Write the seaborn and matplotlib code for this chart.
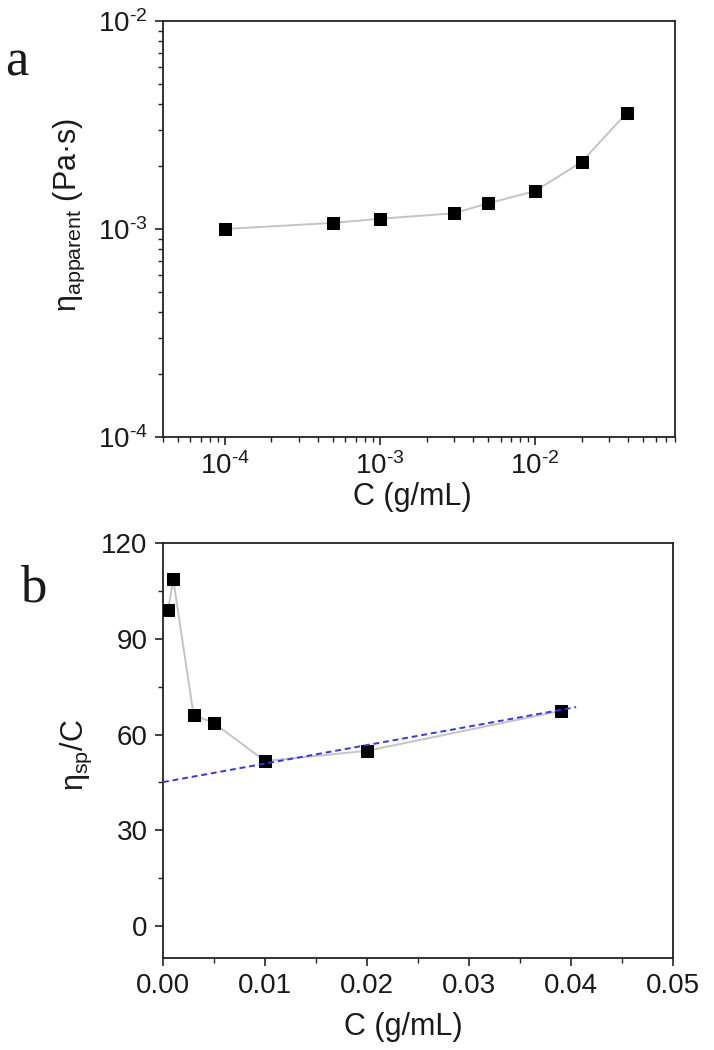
import matplotlib
matplotlib.use("Agg")
import matplotlib.pyplot as plt
import seaborn as sns
import numpy as np
import pandas as pd
from matplotlib.ticker import (LogLocator, MultipleLocator, FormatStrFormatter,
                               NullFormatter, FuncFormatter)

# ---- data ----
conc_a = [1e-4, 5e-4, 1e-3, 3e-3, 5e-3, 1e-2, 2e-2, 3.9e-2]
eta_apparent = [1.00e-3, 1.07e-3, 1.12e-3, 1.19e-3, 1.33e-3, 1.52e-3, 2.10e-3, 3.61e-3]

conc_b = [5e-4, 1e-3, 3e-3, 5e-3, 1e-2, 2e-2, 3.9e-2]
eta_sp_over_c = [99.0, 108.7, 66.1, 63.6, 51.7, 54.9, 67.4]

fit_range = [0.0, 0.0405]
fit_intercept = 45.1
fit_slope = 580.0

sns.set_theme(style="ticks")
plt.rcParams["font.family"] = ["Liberation Sans", "DejaVu Sans"]
plt.rcParams["mathtext.fontset"] = "custom"
plt.rcParams["mathtext.rm"] = "Liberation Sans"
plt.rcParams["mathtext.it"] = "Liberation Sans:italic"
plt.rcParams["mathtext.bf"] = "Liberation Sans:bold"

TXT = "#1a1a1a"
LINE = "#c4c4c4"

fig = plt.figure(figsize=(7.14, 10.5), dpi=100)
ax1 = fig.add_axes([163 / 714, 1 - 437 / 1050, 512 / 714, 416 / 1050])
ax2 = fig.add_axes([163 / 714, 1 - 958 / 1050, 510 / 714, 415 / 1050])

df_a = pd.DataFrame({"C": conc_a, "eta": eta_apparent})
df_b = pd.DataFrame({"C": conc_b, "v": eta_sp_over_c})
fit_x = np.array(fit_range)
df_fit = pd.DataFrame({"C": fit_x, "v": fit_intercept + fit_slope * fit_x})


def pow10(val, pos):
    e = int(round(np.log10(val)))
    sign = r"\text{-}" if e < 0 else ""
    return r"$\mathdefault{10^{%s%d}}$" % (sign, abs(e))


# ---- panel a ----
sns.lineplot(data=df_a, x="C", y="eta", ax=ax1, sort=False, color=LINE, lw=1.4,
             marker="s", markersize=9, markerfacecolor="black",
             markeredgecolor="black", zorder=3)
ax1.set_xscale("log")
ax1.set_yscale("log")
ax1.set_xlim(4e-5, 8e-2)
ax1.set_ylim(1e-4, 1e-2)
ax1.xaxis.set_major_locator(LogLocator(base=10, numticks=10))
ax1.xaxis.set_minor_locator(LogLocator(base=10, subs=np.arange(2, 10), numticks=20))
ax1.xaxis.set_minor_formatter(NullFormatter())
ax1.xaxis.set_major_formatter(FuncFormatter(pow10))
ax1.yaxis.set_major_locator(LogLocator(base=10, numticks=10))
ax1.yaxis.set_minor_locator(LogLocator(base=10, subs=np.arange(2, 10), numticks=20))
ax1.yaxis.set_minor_formatter(NullFormatter())
ax1.yaxis.set_major_formatter(FuncFormatter(pow10))

# ---- panel b ----
sns.lineplot(data=df_b, x="C", y="v", ax=ax2, sort=False, color=LINE, lw=1.4,
             marker="s", markersize=9, markerfacecolor="black",
             markeredgecolor="black", zorder=3)
sns.lineplot(data=df_fit, x="C", y="v", ax=ax2, color="#3535f0", lw=1.4,
             linestyle=(0, (3, 2)), zorder=4)
ax2.set_xlim(0, 0.05)
ax2.set_ylim(-10, 120)
ax2.xaxis.set_major_locator(MultipleLocator(0.01))
ax2.xaxis.set_minor_locator(MultipleLocator(0.005))
ax2.xaxis.set_major_formatter(FormatStrFormatter("%.2f"))
ax2.yaxis.set_major_locator(MultipleLocator(30))
ax2.yaxis.set_minor_locator(MultipleLocator(15))

for ax in (ax1, ax2):
    for s in ax.spines.values():
        s.set_linewidth(1.3)
        s.set_color("#222222")
    ax.tick_params(axis="both", which="both", direction="out", top=False,
                   right=False, colors="#222222", labelcolor=TXT)
    ax.tick_params(which="major", length=6, width=1.2, labelsize=20, pad=5)
    ax.tick_params(which="minor", length=3.5, width=1.0)

ax1.set_xlabel("C (g/mL)", fontsize=22, color=TXT)
ax1.xaxis.set_label_coords(0.486, -0.108)
ax1.set_ylabel(r"η$_{\mathrm{apparent}}$ (Pa·s)", fontsize=22, color=TXT)
ax1.yaxis.set_label_coords(-0.148, 0.534)

ax2.set_xlabel("C (g/mL)", fontsize=22, color=TXT)
ax2.xaxis.set_label_coords(0.471, -0.13)
ax2.set_ylabel(r"η$_{\mathrm{sp}}$/C", fontsize=22, color=TXT)
ax2.yaxis.set_label_coords(-0.135, 0.489)

fig.text(5 / 714, 1 - 75 / 1050, "a", fontsize=38, family=["Liberation Serif", "DejaVu Serif"],
         color=TXT, ha="left", va="baseline")
fig.text(20 / 714, 1 - 602 / 1050, "b", fontsize=38, family=["Liberation Serif", "DejaVu Serif"],
         color=TXT, ha="left", va="baseline")

fig.savefig("out.png", dpi=100, facecolor="white")
